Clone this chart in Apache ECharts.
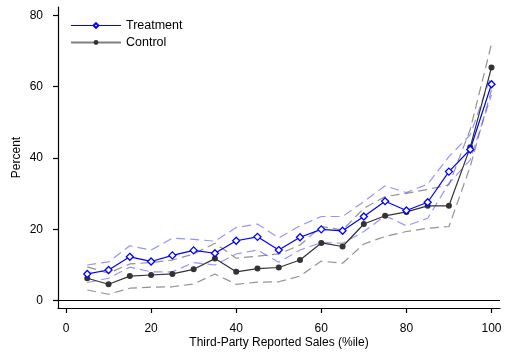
<!DOCTYPE html>
<html>
<head>
<meta charset="utf-8">
<script src="https://cdn.jsdelivr.net/npm/echarts@6/dist/echarts.min.js"></script>
<style>
  html, body { margin: 0; padding: 0; background: #fff; }
  #chart { width: 507px; height: 358px; }
</style>
</head>
<body>
<div id="chart"></div>
<script>
// Percentile bins of third-party reported sales
const pct = [5, 10, 15, 20, 25, 30, 35, 40, 45, 50, 55, 60, 65, 70, 75, 80, 85, 90, 95, 100];

// Treatment group: point estimates and 95% confidence bounds
const treat   = [7.5, 8.6, 12.3, 11.0, 12.7, 14.1, 13.3, 16.8, 17.9, 14.2, 17.8, 20.0, 19.6, 23.6, 27.9, 25.3, 27.6, 36.2, 42.4, 60.7];
const treatHi = [10.0, 10.9, 15.4, 14.2, 17.5, 17.2, 16.7, 20.5, 21.5, 17.6, 21.0, 23.6, 23.6, 27.8, 32.2, 30.3, 32.7, 40.4, 46.5, 63.3];
const treatLo = [5.1, 6.3, 9.4, 8.1, 8.1, 10.7, 10.0, 13.1, 14.2, 10.8, 14.2, 16.3, 16.1, 19.4, 23.8, 21.0, 23.1, 32.9, 39.5, 57.7];

// Control group: point estimates and 95% confidence bounds
const control = [6.3, 4.6, 6.9, 7.2, 7.5, 8.8, 11.8, 8.1, 9.0, 9.3, 11.4, 16.2, 15.2, 21.5, 23.8, 24.9, 26.6, 26.6, 43.0, 65.4];
const ctrlHi  = [9.5, 7.7, 10.3, 10.7, 11.4, 13.1, 16.1, 11.9, 12.5, 13.1, 15.6, 20.8, 19.8, 25.9, 29.2, 30.1, 31.2, 32.5, 48.0, 72.0];
const ctrlLo  = [3.0, 1.8, 3.5, 3.8, 3.9, 4.7, 7.5, 4.6, 5.2, 5.3, 6.9, 11.1, 10.5, 15.9, 18.0, 19.4, 20.3, 20.8, 37.6, 59.1];

// Axis ticks
const xTicks = [0, 20, 40, 60, 80, 100];
const yTicks = [0, 20, 40, 60, 80];

const FONT = 'Liberation Sans, Arial, Helvetica, sans-serif';
const pairs = (ys) => pct.map((x, i) => [x, ys[i]]);

function band(name, ys, color) {
  return {
    name: name,
    type: 'line',
    data: pairs(ys),
    symbol: 'none',
    silent: true,
    z: 1,
    lineStyle: { color: color, width: 1.2, type: [9, 5] }
  };
}

const chart = echarts.init(document.getElementById('chart'), null, { renderer: 'canvas' });
chart.setOption({
  animation: false,
  backgroundColor: '#fff',
  grid: { left: 58, right: 7, top: 7, bottom: 50 },
  legend: {
    left: 65,
    top: 14,
    orient: 'vertical',
    itemWidth: 50,
    itemHeight: 6,
    itemGap: 4,
    textStyle: { fontFamily: FONT, fontSize: 12.5, color: '#000' },
    data: [
      { name: 'Treatment', lineStyle: { color: '#0000ff', width: 1.2 } },
      { name: 'Control', lineStyle: { color: '#808080', width: 2 } }
    ]
  },
  xAxis: {
    type: 'value',
    min: -1.88,
    max: 102,
    name: 'Third-Party Reported Sales (%ile)',
    nameLocation: 'middle',
    nameGap: 29,
    nameMoveOverlap: false,
    nameTextStyle: { fontFamily: FONT, fontSize: 12, color: '#000' },
    splitLine: { show: false },
    axisLine: { show: true, onZero: false, lineStyle: { color: '#000', width: 1.2 } },
    axisTick: { show: true, length: 5, customValues: xTicks, lineStyle: { color: '#000', width: 1.2 } },
    axisLabel: { customValues: xTicks, margin: 15, fontFamily: FONT, fontSize: 12, color: '#000' }
  },
  yAxis: {
    type: 'value',
    min: -2.05,
    max: 82.35,
    name: 'Percent',
    nameLocation: 'middle',
    nameGap: 35,
    nameRotate: 90,
    nameMoveOverlap: false,
    nameTextStyle: { fontFamily: FONT, fontSize: 12, color: '#000' },
    splitLine: { show: false },
    axisLine: { show: true, onZero: false, lineStyle: { color: '#000', width: 1.2 } },
    axisTick: { show: true, length: 5, customValues: yTicks, lineStyle: { color: '#000', width: 1.2 } },
    axisLabel: { customValues: yTicks, margin: 15, fontFamily: FONT, fontSize: 12, color: '#000' }
  },
  series: [
    band('ctrlHi', ctrlHi, 'rgba(110,110,110,0.75)'),
    band('ctrlLo', ctrlLo, 'rgba(110,110,110,0.75)'),
    band('treatHi', treatHi, 'rgba(90,90,255,0.65)'),
    band('treatLo', treatLo, 'rgba(90,90,255,0.65)'),
    {
      name: 'Control',
      type: 'line',
      data: pairs(control),
      symbol: 'circle',
      symbolSize: 6,
      z: 3,
      lineStyle: { color: '#333', width: 1.2 },
      itemStyle: { color: '#333', borderColor: '#333', borderWidth: 0 },
      markLine: {
        silent: true,
        symbol: 'none',
        label: { show: false },
        lineStyle: { color: '#000', width: 1.2, type: 'solid' },
        data: [{ yAxis: 0 }]
      }
    },
    {
      name: 'Treatment',
      type: 'line',
      data: pairs(treat),
      symbol: 'diamond',
      symbolSize: 7,
      z: 4,
      lineStyle: { color: '#0000ff', width: 1.2 },
      itemStyle: { color: '#fff', borderColor: '#0000ff', borderWidth: 1.3 }
    }
  ]
});
</script>
</body>
</html>
